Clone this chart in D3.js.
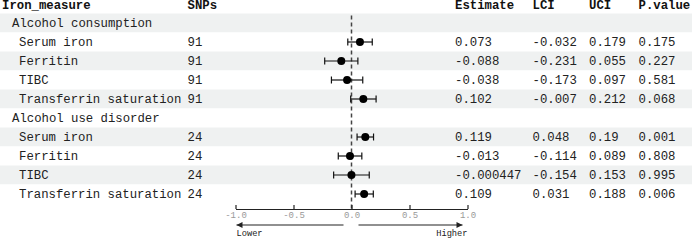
<!DOCTYPE html>
<html>
<head>
<meta charset="utf-8">
<script src="https://cdn.jsdelivr.net/npm/d3@7"></script>
<style>
    html, body { margin: 0; padding: 0; background: #fff; }
    #forest-root { width: 700px; height: 241px; }
    text { font-family: "Liberation Mono", "DejaVu Sans Mono", monospace; }
</style>
</head>
<body>
<div id="forest-root"></div>
<script>
(function () {
    const groups = ["Alcohol consumption", "Alcohol use disorder"];
    const measures = ["Serum iron", "Ferritin", "TIBC", "Transferrin saturation"];
    const snps = [[91, 91, 91, 91], [24, 24, 24, 24]];
    const estimates = [[0.073, -0.088, -0.038, 0.102], [0.119, -0.013, -0.000447, 0.109]];
    const lci = [[-0.032, -0.231, -0.173, -0.007], [0.048, -0.114, -0.154, 0.031]];
    const uci = [[0.179, 0.055, 0.097, 0.212], [0.19, 0.089, 0.153, 0.188]];
    const pvalues = [[0.175, 0.227, 0.581, 0.068], [0.001, 0.808, 0.995, 0.006]];
    const headers = ["Iron_measure", "SNPs", "Estimate", "LCI", "UCI", "P.value"];
    const tickVals = [-1, -0.5, 0, 0.5, 1];
    const arrowLabels = ["Lower", "Higher"];

    const width = 700, height = 241;
    const fontSize = 12.3;

    // build the table rows: a label row per group, then one row per measure
    const rows = [];
    groups.forEach((g, gi) => {
        rows.push({ type: "group", label: g });
        measures.forEach((m, mi) => {
            rows.push({
                type: "item", label: m, snps: snps[gi][mi], est: estimates[gi][mi],
                lci: lci[gi][mi], uci: uci[gi][mi], p: pvalues[gi][mi]
            });
        });
    });

    const svg = d3.select("#forest-root").append("svg")
        .attr("width", width).attr("height", height);

    const y = d3.scaleBand().domain(d3.range(rows.length)).range([13.5, 203.5]).padding(0);
    const x = d3.scaleLinear().domain([-1, 1]).range([235.5, 467.5]);

    // column x positions
    const colX = { label: 2, snps: 187.5, est: 455, lci: 532.5, uci: 589, p: 638.5 };
    const headerX = [colX.label, colX.snps, colX.est, colX.lci, colX.uci, colX.p];

    // stripes
    svg.append("g").selectAll("rect").data(rows).join("rect")
        .attr("x", 0).attr("y", (d, i) => y(i))
        .attr("width", 692).attr("height", y.bandwidth())
        .attr("fill", (d, i) => i % 2 === 0 ? "#eff1f1" : "#fff");

    // header
    svg.append("g").selectAll("text").data(headers).join("text")
        .attr("x", (d, i) => headerX[i]).attr("y", 9)
        .attr("font-size", fontSize).attr("font-weight", "bold").attr("fill", "#111")
        .text(d => d);

    const cells = svg.append("g").attr("font-size", fontSize).attr("fill", "#222");
    const rowY = i => y(i) + y.bandwidth() / 2 + 4;

    rows.forEach((r, i) => {
        if (r.type === "group") {
            cells.append("text").attr("x", 12).attr("y", rowY(i)).text(r.label);
            return;
        }
        cells.append("text").attr("x", 19).attr("y", rowY(i)).text(r.label);
        cells.append("text").attr("x", colX.snps).attr("y", rowY(i)).text(r.snps);
        cells.append("text").attr("x", colX.est).attr("y", rowY(i)).text(String(r.est));
        cells.append("text").attr("x", colX.lci).attr("y", rowY(i)).text(String(r.lci));
        cells.append("text").attr("x", colX.uci).attr("y", rowY(i)).text(String(r.uci));
        cells.append("text").attr("x", colX.p).attr("y", rowY(i)).text(String(r.p));
    });

    // reference line at 0
    svg.append("line")
        .attr("x1", x(0)).attr("x2", x(0)).attr("y1", y(0) + 2).attr("y2", 209)
        .attr("stroke", "#444").attr("stroke-width", 1.5).attr("stroke-dasharray", "4,3");

    // CI whiskers and points
    const items = rows.map((r, i) => ({ ...r, i })).filter(r => r.type === "item");
    const marks = svg.append("g");
    const cy = d => y(d.i) + y.bandwidth() / 2;
    marks.selectAll(".ci").data(items).join("line").attr("class", "ci")
        .attr("x1", d => x(d.lci)).attr("x2", d => x(d.uci))
        .attr("y1", cy).attr("y2", cy).attr("stroke", "#111").attr("stroke-width", 1.2);
    ["lci", "uci"].forEach(k => {
        marks.selectAll(".cap-" + k).data(items).join("line").attr("class", "cap-" + k)
            .attr("x1", d => x(d[k])).attr("x2", d => x(d[k]))
            .attr("y1", d => cy(d) - 3.5).attr("y2", d => cy(d) + 3.5)
            .attr("stroke", "#111").attr("stroke-width", 1.2);
    });
    marks.selectAll("circle").data(items).join("circle")
        .attr("cx", d => x(d.est)).attr("cy", cy).attr("r", 4).attr("fill", "#000");

    // x axis
    const axisY = 209;
    const gx = svg.append("g").attr("transform", `translate(0,${axisY})`)
        .call(d3.axisBottom(x).tickValues(tickVals).tickFormat(d => d.toFixed(1))
            .tickSizeInner(-4).tickSizeOuter(0).tickPadding(3));
    gx.select(".domain").attr("stroke", "#222").attr("stroke-width", 1.2);
    gx.selectAll(".tick line").attr("stroke", "#222").attr("stroke-width", 1.2);
    gx.selectAll(".tick text").attr("font-family", "Liberation Mono, monospace")
        .attr("font-size", 9).attr("fill", "#999");

    // direction arrows
    const defs = svg.append("defs");
    defs.append("marker").attr("id", "arrowhead").attr("viewBox", "0 0 10 10")
        .attr("refX", 10).attr("refY", 5).attr("markerWidth", 8).attr("markerHeight", 6)
        .attr("markerUnits", "userSpaceOnUse").attr("orient", "auto")
        .append("path").attr("d", "M0,0L10,5L0,10Z").attr("fill", "#222");

    const arrowY = 225;
    svg.append("line").attr("x1", x(0) - 8).attr("x2", x(-1) + 1)
        .attr("y1", arrowY).attr("y2", arrowY).attr("stroke", "#222").attr("stroke-width", 1.2)
        .attr("marker-end", "url(#arrowhead)");
    svg.append("line").attr("x1", x(0) + 7).attr("x2", x(1) - 5)
        .attr("y1", arrowY).attr("y2", arrowY).attr("stroke", "#222").attr("stroke-width", 1.2)
        .attr("marker-end", "url(#arrowhead)");

    svg.append("text").attr("x", x(-1) + 1).attr("y", 236).attr("font-size", 8.7)
        .attr("fill", "#222").text(arrowLabels[0]);
    svg.append("text").attr("x", x(1)).attr("y", 236).attr("font-size", 8.7)
        .attr("text-anchor", "end").attr("fill", "#222").text(arrowLabels[1]);
})();
</script>
</body>
</html>
